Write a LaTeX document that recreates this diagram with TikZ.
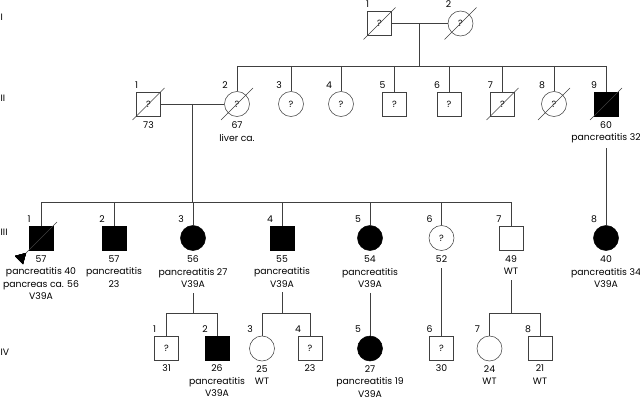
\documentclass[tikz,border=0pt]{standalone}
\usepackage{fontspec}
\setmainfont{Poppins}
\usetikzlibrary{positioning}
\newcommand\deceased[1]{\draw[pline] ([shift={(-16,16)}]#1.center) -- ([shift={(16,-16)}]#1.center);}
\begin{document}
\begin{tikzpicture}[x=1pt,y=-1pt,
    pline/.style={draw=black!75,line width=0.55pt},
    male/.style={pline,rectangle,minimum size=24pt,inner sep=0pt,font=\fontsize{9}{9}\selectfont},
    female/.style={pline,circle,minimum size=25pt,inner sep=0pt,font=\fontsize{9}{9}\selectfont},
    aff/.style={fill=black,draw=black},
    info/.style={align=center,inner sep=0pt,font=\fontsize{9.3}{12.5}\selectfont},
    num/.style={inner sep=0pt,font=\fontsize{9.3}{10}\selectfont},
    gen/.style={anchor=west,inner sep=0pt,font=\fontsize{9.3}{10}\selectfont}]
\useasboundingbox (0,0) rectangle (640,401);
% generation labels
\node[gen] (gI) at (0.5,17) {I};
\node[gen] (gII) at (0.5,98) {II};
\node[gen] (gIII) at (0.5,232) {III};
\node[gen] (gIV) at (0.5,352) {IV};
% generation I
\node[male] (I1) at (379.5,23.5) {?};
\node[female] (I2) at (460.5,23.5) {?};
% generation II
\node[male] (II1) at (148.5,104) {?};
\node[female] (II2) at (237,104) {?};
\node[female] (II3) at (291,104) {?};
\node[female] (II4) at (341,104) {?};
\node[male] (II5) at (394.5,104) {?};
\node[male] (II6) at (449,104) {?};
\node[male] (II7) at (502.5,104) {?};
\node[female] (II8) at (554,104) {?};
\node[male,aff] (II9) at (606,104) {};
% generation III
\node[male,aff] (III1) at (41,238) {};
\node[male,aff] (III2) at (114,238) {};
\node[female,aff] (III3) at (193,238) {};
\node[male,aff] (III4) at (282,238) {};
\node[female,aff] (III5) at (370,238) {};
\node[female] (III6) at (441.5,238) {?};
\node[male] (III7) at (511,238) {};
\node[female,aff] (III8) at (606,238) {};
% generation IV
\node[male] (IV1) at (166.5,348.5) {?};
\node[male,aff] (IV2) at (217,348.5) {};
\node[female] (IV3) at (262,348.5) {};
\node[male] (IV4) at (310,348.5) {?};
\node[female,aff] (IV5) at (370,348.5) {};
\node[male] (IV6) at (441.5,348.5) {?};
\node[female] (IV7) at (489.5,348.5) {};
\node[male] (IV8) at (540,348.5) {};
% numbers
\foreach \g/\n in {I/1,I/2,II/1,II/2,II/3,II/4,II/5,II/6,II/7,II/8,II/9,
    III/1,III/2,III/3,III/4,III/5,III/6,III/7,III/8,
    IV/1,IV/2,IV/3,IV/4,IV/5,IV/6,IV/7,IV/8}
  \node[num] (n\g\n) at ([shift={(-12,-19)}]\g\n.center) {\n};
% ages and findings
\node[info,below=5pt of II1] (tII1) {73};
\node[info,below=5pt of II2] (tII2) {67\\liver ca.};
\node[info,below=5pt of II9] (tII9) {60\\pancreatitis 32};
\node[info,below=5pt of III1] (tIII1) {57\\pancreatitis 40\\pancreas ca. 56\\V39A};
\node[info,below=5pt of III2] (tIII2) {57\\pancreatitis\\23};
\node[info,below=5pt of III3] (tIII3) {56\\pancreatitis 27\\V39A};
\node[info,below=5pt of III4] (tIII4) {55\\pancreatitis\\V39A};
\node[info,below=5pt of III5] (tIII5) {54\\pancreatitis\\V39A};
\node[info,below=5pt of III6] (tIII6) {52};
\node[info,below=5pt of III7] (tIII7) {49\\WT};
\node[info,below=5pt of III8] (tIII8) {40\\pancreatitis 34\\V39A};
\node[info,below=4pt of IV1] (tIV1) {31};
\node[info,below=4pt of IV2] (tIV2) {26\\pancreatitis\\V39A};
\node[info,below=4pt of IV3] (tIV3) {25\\WT};
\node[info,below=4pt of IV4] (tIV4) {23};
\node[info,below=4pt of IV5] (tIV5) {27\\pancreatitis 19\\V39A};
\node[info,below=4pt of IV6] (tIV6) {30};
\node[info,below=4pt of IV7] (tIV7) {24\\WT};
\node[info,below=4pt of IV8] (tIV8) {21\\WT};
% deceased
\foreach \p in {I1,I2,II1,II2,II7,II8,II9,III1}
  \deceased{\p}
% proband
\fill ([shift={(-15,15)}]III1.center) -- ++(-3,11) -- ++(-8,-8) -- cycle;
% marriages and sibships
\coordinate (mI) at (419,23.5);
\coordinate (sII) at (419,66);
\draw[pline] (I1) -- (I2);
\draw[pline] (mI) -- (sII);
\draw[pline] (II2 |- sII) -- (II9 |- sII);
\foreach \c in {II2,II3,II4,II5,II6,II7,II8,II9}
  \draw[pline] (\c |- sII) -- (\c);
\coordinate (mII) at (192.5,104);
\coordinate (sIII) at (192.5,202);
\draw[pline] (II1) -- (II2);
\draw[pline] (mII) -- (sIII);
\draw[pline] (III1 |- sIII) -- (III7 |- sIII);
\foreach \c in {III1,III2,III3,III4,III5,III6,III7}
  \draw[pline] (\c |- sIII) -- (\c);
\draw[pline,shorten <=5pt] (tII9) -- (III8);
% generation IV sibships
\coordinate (sIVa) at (193,313);
\coordinate (sIVb) at (282,313);
\coordinate (sIVc) at (511,313);
\draw[pline,shorten <=5pt] (tIII3) -- (sIVa);
\draw[pline] (IV1 |- sIVa) -- (IV2 |- sIVa);
\draw[pline,shorten <=5pt] (tIII4) -- (sIVb);
\draw[pline] (IV3 |- sIVb) -- (IV4 |- sIVb);
\draw[pline,shorten <=5pt] (tIII7) -- (sIVc);
\draw[pline] (IV7 |- sIVc) -- (IV8 |- sIVc);
\foreach \c/\s in {IV1/sIVa,IV2/sIVa,IV3/sIVb,IV4/sIVb,IV7/sIVc,IV8/sIVc}
  \draw[pline] (\c |- \s) -- (\c);
\draw[pline,shorten <=5pt] (tIII5) -- (IV5);
\draw[pline,shorten <=5pt] (tIII6) -- (IV6);
\end{tikzpicture}
\end{document}
